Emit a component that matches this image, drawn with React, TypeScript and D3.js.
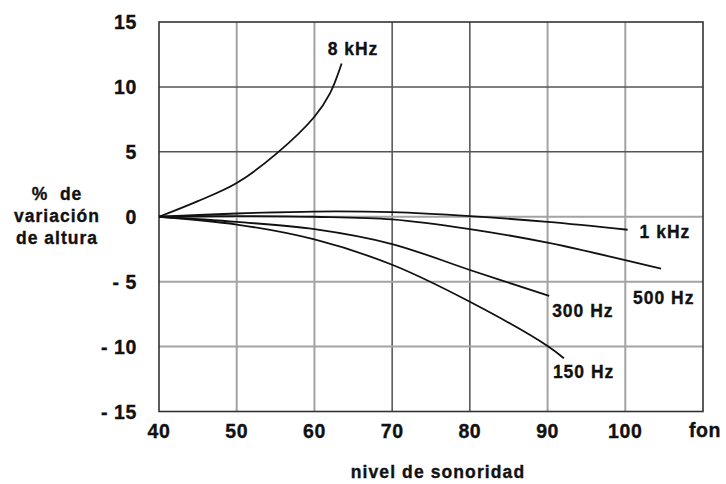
import React from "react";
import * as d3 from "d3";

const xTicks = [40, 50, 60, 70, 80, 90, 100];
const yTicks = [15, 10, 5, 0, -5, -10, -15];
const yTickLabels = ["15", "10", "5", "0", "- 5", "- 10", "- 15"];

const seriesNames = ["8 kHz", "1 kHz", "500 Hz", "300 Hz", "150 Hz"];
const x8k = [40, 45, 50, 55, 60, 62, 63.5];
const y8k = [0, 1.2, 2.6, 4.8, 7.7, 9.5, 11.8];
const x1k = [40, 50, 60, 70, 80, 90, 100.3];
const y1k = [0, 0.25, 0.4, 0.35, 0.05, -0.4, -1.0];
const x500 = [40, 50, 60, 70, 80, 90, 104.6];
const y500 = [0, 0.05, 0, -0.2, -0.95, -2.0, -4.0];
const x300 = [40, 50, 60, 70, 80, 90.2];
const y300 = [0, -0.4, -0.95, -2.1, -4.1, -6.1];
const x150 = [40, 50, 60, 70, 80, 90, 92.1];
const y150 = [0, -0.6, -1.75, -3.7, -6.55, -9.95, -10.9];

const seriesX = [x8k, x1k, x500, x300, x150];
const seriesY = [y8k, y1k, y500, y300, y150];
// label offsets (px) from each curve's last point
const labelDx = [-14, 12, -28, 3, -11];
const labelDy = [-9, 8, 35, 21, 20];

const darkV = new Set([70, 80]);
const darkH = new Set([10, 5]);

export default function App() {
  const W = 726, H = 484;
  const x = d3.scaleLinear().domain([40, 110]).range([159, 703]);
  const y = d3.scaleLinear().domain([-15, 15]).range([411.5, 22]);
  const line = d3
    .line<[number, number]>()
    .x((d) => x(d[0]))
    .y((d) => y(d[1]))
    .curve(d3.curveCatmullRom.alpha(0.5));

  const font = "'Liberation Sans', Arial, sans-serif";
  const ink = "#111";
  const txt = { fill: ink, stroke: ink, strokeWidth: 0.35 };

  return (
    <svg
      width={W}
      height={H}
      style={{ position: "absolute", left: 0, top: 0, background: "#fff" }}
      fontFamily={font}
      fontWeight="bold"
    >
      <rect x={0} y={0} width={W} height={H} fill="#fff" />
      {xTicks.slice(1).map((t) => (
        <line
          key={"v" + t}
          x1={x(t)}
          x2={x(t)}
          y1={y(15)}
          y2={y(-15)}
          stroke={darkV.has(t) ? "#333" : "#a3a3a3"}
          strokeWidth={darkV.has(t) ? 1.3 : 2}
        />
      ))}
      {yTicks.slice(1, -1).map((t) => (
        <line
          key={"h" + t}
          x1={x(40)}
          x2={x(110)}
          y1={y(t)}
          y2={y(t)}
          stroke={darkH.has(t) ? "#555" : "#a3a3a3"}
          strokeWidth={darkH.has(t) ? 1.5 : 2}
        />
      ))}
      <rect
        x={x(40)}
        y={y(15)}
        width={x(110) - x(40)}
        height={y(-15) - y(15)}
        fill="none"
        stroke="#333"
        strokeWidth={1.6}
      />
      {seriesX.map((xs, i) => {
        const pts = xs.map((v, j) => [v, seriesY[i][j]] as [number, number]);
        const last = pts[pts.length - 1];
        return (
          <g key={seriesNames[i]}>
            <path d={line(pts) || ""} fill="none" stroke={ink} strokeWidth={1.8} />
            <text
              x={x(last[0]) + labelDx[i]}
              y={y(last[1]) + labelDy[i]}
              fontSize={17.5}
              letterSpacing={1}
              {...txt}
            >
              {seriesNames[i]}
            </text>
          </g>
        );
      })}
      {yTicks.map((t, i) => (
        <text
          key={"yt" + t}
          x={137}
          y={y(t)}
          dy="0.36em"
          textAnchor="end"
          fontSize={19.5}
          letterSpacing={0.6}
          {...txt}
          style={{ whiteSpace: "pre" }}
        >
          {yTickLabels[i]}
        </text>
      ))}
      {xTicks.map((t) => (
        <text
          key={"xt" + t}
          x={x(t)}
          y={438}
          textAnchor="middle"
          fontSize={19.5}
          letterSpacing={0.6}
          {...txt}
        >
          {t}
        </text>
      ))}
      <text x={689} y={437} fontSize={19.5} letterSpacing={0.6} {...txt}>
        fon
      </text>
      <text x={438} y={478} textAnchor="middle" fontSize={17.5} letterSpacing={1.1} {...txt}>
        nivel de sonoridad
      </text>
      <g fontSize={17.5} letterSpacing={1} textAnchor="middle">
        <text x={57} y={200} {...txt} style={{ whiteSpace: "pre" }}>
          {"%  de"}
        </text>
        <text x={57} y={222} {...txt}>variación</text>
        <text x={57} y={244} {...txt}>de altura</text>
      </g>
    </svg>
  );
}
